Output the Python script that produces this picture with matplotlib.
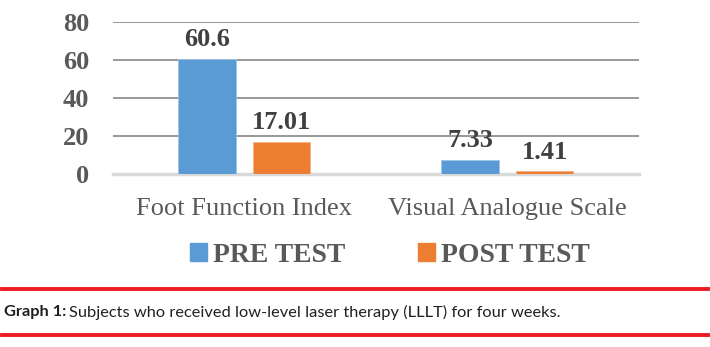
import numpy as np
import matplotlib
matplotlib.use("Agg")
import matplotlib.pyplot as plt
from matplotlib.lines import Line2D

categories = ["Foot Function Index", "Visual Analogue Scale"]
pre_test = [60.6, 7.33]
post_test = [17.01, 1.41]
pre_labels = ["60.6", "7.33"]
post_labels = ["17.01", "1.41"]
series_names = ["PRE TEST", "POST TEST"]
yticks = [0, 20, 40, 60, 80]

blue = "#5B9BD5"
orange = "#ED7D31"
serif = ["Liberation Serif", "DejaVu Serif"]

fig = plt.figure(figsize=(7.1, 3.47), dpi=100)
ax = fig.add_axes([0.159, 0.4986, 0.741, 0.438])

x = np.arange(len(categories))
w = 0.22
b1 = ax.bar(x - 0.141, pre_test, w, color=blue, edgecolor="#9DC3E6", linewidth=0.6, zorder=3)
b2 = ax.bar(x + 0.141, post_test, w, color=orange, edgecolor="#F4B183", linewidth=0.6, zorder=3)

for bars, labs in [(b1, pre_labels), (b2, post_labels)]:
    for r, lab in zip(bars, labs):
        ax.text(r.get_x() + r.get_width() / 2, r.get_height() + 4, lab,
                ha="center", va="bottom", family=serif, fontsize=19,
                fontweight="bold", color="#404040", zorder=4)

ax.set_xlim(-0.5, 1.5)
ax.set_ylim(0, 80)
ax.set_yticks(yticks)
ax.set_yticklabels([str(t) for t in yticks], family=serif, fontsize=19,
                   fontweight="bold", color="#595959")
ax.set_xticks(x)
ax.set_xticklabels(categories, family=serif, fontsize=19, color="#595959")
ax.tick_params(axis="both", length=0)
ax.tick_params(axis="y", pad=17)
ax.tick_params(axis="x", pad=17)
ax.yaxis.grid(True, color="#868686", linewidth=1.2, zorder=0)
for s in ["left", "right", "top"]:
    ax.spines[s].set_visible(False)
ax.spines["bottom"].set_color("#D9D9D9")
ax.spines["bottom"].set_linewidth(2.5)
ax.spines["bottom"].set_zorder(2)

# legend
handles = [plt.Rectangle((0, 0), 1, 1, color=blue), plt.Rectangle((0, 0), 1, 1, color=orange)]
fig.legend(handles, series_names, loc="center", bbox_to_anchor=(0.549, 0.264),
           ncol=2, frameon=False, handlelength=0.62, handleheight=0.58,
           handletextpad=0.22, columnspacing=2.6,
           prop={"family": serif, "size": 20, "weight": "bold"},
           labelcolor="#595959")

# caption with red rules
red = "#ED1C24"
fig.add_artist(Line2D([0.003, 0.997], [1 - 289 / 347] * 2, color=red, linewidth=2.8))
fig.add_artist(Line2D([0.003, 0.997], [1 - 335 / 347] * 2, color=red, linewidth=2.8))
cap_font = ["Lato", "DejaVu Sans"]
t = fig.text(0.005, 1 - 312 / 347, "Graph 1:", family=cap_font, fontsize=11.8,
             fontweight="bold", color="#231F20", va="center", ha="left")
fig.canvas.draw()
bb = t.get_window_extent()
fig.text(bb.x1 / fig.bbox.width + 0.004, 1 - 312 / 347,
         "Subjects who received low-level laser therapy (LLLT) for four weeks.",
         family=cap_font, fontsize=11.8, color="#231F20", va="center", ha="left")

fig.savefig("out.png", dpi=100)
